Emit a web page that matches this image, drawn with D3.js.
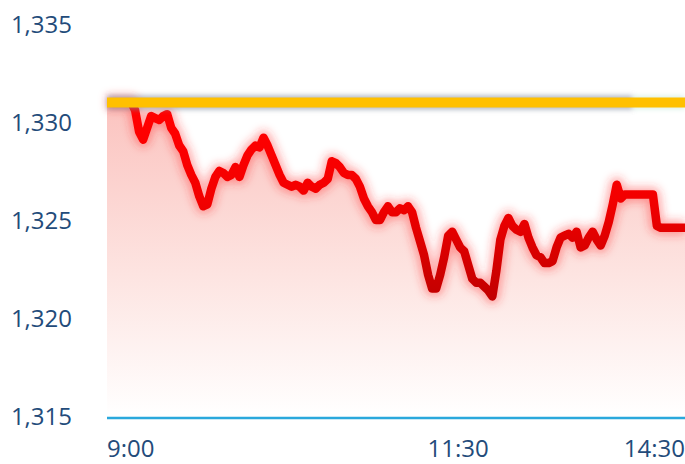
<!DOCTYPE html>
<html>
<head>
<meta charset="utf-8">
<script src="https://cdn.jsdelivr.net/npm/d3@7"></script>
<style>
  html, body { margin: 0; padding: 0; background: #fff; }
  svg { display: block; }
  .lbl { font-family: "Open Sans", "Noto Sans", sans-serif; font-size: 24px; fill: #234b7a; }
</style>
</head>
<body>
<div id="chart"></div>
<script>
// intraday price, one sample every step along the session
const prices = [
  1331.0, 1331.0, 1331.0, 1331.0, 1331.0, 1331.0, 1331.0, 1330.6, 1329.5, 1329.1,
  1329.7, 1330.3, 1330.2, 1330.1, 1330.3, 1330.4, 1329.7, 1329.4, 1328.8, 1328.5,
  1327.8, 1327.3, 1326.9, 1326.2, 1325.7, 1325.8, 1326.6, 1327.2, 1327.5, 1327.4,
  1327.2, 1327.3, 1327.7, 1327.2, 1327.8, 1328.3, 1328.6, 1328.8, 1328.7, 1329.2,
  1328.8, 1328.3, 1327.8, 1327.3, 1326.9, 1326.8, 1326.7, 1326.8, 1326.7, 1326.5,
  1326.9, 1326.7, 1326.6, 1326.8, 1326.9, 1327.1, 1328.0, 1327.9, 1327.7, 1327.4,
  1327.3, 1327.3, 1327.1, 1326.7, 1326.1, 1325.7, 1325.4, 1325.0, 1325.0, 1325.4,
  1325.7, 1325.4, 1325.4, 1325.6, 1325.5, 1325.7, 1325.4, 1324.6, 1323.9, 1323.2,
  1322.2, 1321.5, 1321.5, 1322.2, 1323.1, 1324.2, 1324.4, 1324.0, 1323.6, 1323.4,
  1322.7, 1322.0, 1321.8, 1321.8, 1321.6, 1321.4, 1321.1, 1322.4, 1324.0, 1324.7,
  1325.1, 1324.7, 1324.5, 1324.4, 1324.8, 1324.1, 1323.6, 1323.2, 1323.1, 1322.8,
  1322.8, 1322.9, 1323.6, 1324.1, 1324.2, 1324.3, 1324.1, 1324.4, 1323.6, 1323.7,
  1324.1, 1324.4, 1324.0, 1323.7, 1324.2, 1324.9, 1325.8, 1326.8, 1326.1, 1326.3,
  1326.3, 1326.3, 1326.3, 1326.3, 1326.3, 1326.3, 1326.3, 1324.7, 1324.6, 1324.6,
  1324.6, 1324.6, 1324.6, 1324.6, 1324.6
];
const prevClose = 1331;
const shadowEnd = 131; // index where the grey shadow of the ref line stops

const yTicks = [1315, 1320, 1325, 1330, 1335];
const xLabels = ["9:00", "11:30", "14:30"];
const xLabelIdx = [0, 87.5, 144];
const xLabelAnchor = ["start", "middle", "end"];

const width = 685, height = 464;
const plotLeft = 107, plotRight = 685, plotTop = 24, plotBottom = 416;

const svg = d3.select("#chart").append("svg")
  .attr("width", width)
  .attr("height", height);

const x = d3.scaleLinear().domain([0, prices.length - 1]).range([plotLeft, plotRight]);
const y = d3.scaleLinear().domain([1315, 1335]).range([plotBottom, plotTop]);

const defs = svg.append("defs");

let areaGrad = defs.append("linearGradient")
  .attr("id", "areaGrad")
  .attr("gradientUnits", "userSpaceOnUse")
  .attr("x1", 0).attr("x2", 0)
  .attr("y1", y(prevClose)).attr("y2", plotBottom);
areaGrad.append("stop").attr("offset", 0).attr("stop-color", "#fbc3bf");
areaGrad.append("stop").attr("offset", 0.55).attr("stop-color", "#fde4e1");
areaGrad.append("stop").attr("offset", 1).attr("stop-color", "#ffffff");

let lineGrad = defs.append("linearGradient")
  .attr("id", "lineGrad")
  .attr("gradientUnits", "userSpaceOnUse")
  .attr("x1", 0).attr("x2", 0)
  .attr("y1", y(1330)).attr("y2", y(1321));
lineGrad.append("stop").attr("offset", 0).attr("stop-color", "#ff0000");
lineGrad.append("stop").attr("offset", 0.45).attr("stop-color", "#f20000");
lineGrad.append("stop").attr("offset", 1).attr("stop-color", "#c20000");

defs.append("filter").attr("id", "glow")
  .attr("x", "-10%").attr("y", "-10%").attr("width", "120%").attr("height", "120%")
  .append("feGaussianBlur").attr("stdDeviation", 4);

defs.append("filter").attr("id", "soft")
  .attr("filterUnits", "userSpaceOnUse")
  .attr("x", 0).attr("y", 60).attr("width", width).attr("height", 90)
  .append("feGaussianBlur").attr("stdDeviation", 2.5);

// area under the price line
let area = d3.area()
  .x((d, i) => x(i))
  .y0(y(1315))
  .y1(d => y(d));

svg.append("path")
  .datum(prices)
  .attr("d", area)
  .attr("fill", "url(#areaGrad)");

// baseline
svg.append("line")
  .attr("x1", plotLeft).attr("x2", plotRight)
  .attr("y1", y(1315) + 2).attr("y2", y(1315) + 2)
  .attr("stroke", "#2aa8dc")
  .attr("stroke-width", 2.5);

let line = d3.line()
  .x((d, i) => x(i))
  .y(d => y(d));

// glow of the price line
svg.append("path")
  .datum(prices)
  .attr("d", line)
  .attr("fill", "none")
  .attr("stroke", "#ff3030")
  .attr("stroke-opacity", 0.4)
  .attr("stroke-width", 15)
  .attr("stroke-linejoin", "round")
  .attr("filter", "url(#glow)");

svg.append("path")
  .datum(prices)
  .attr("d", line)
  .attr("fill", "none")
  .attr("stroke", "url(#lineGrad)")
  .attr("stroke-width", 8.5)
  .attr("stroke-linejoin", "round")
  .attr("stroke-linecap", "butt");

// previous close reference line with its shadow
svg.append("line")
  .attr("x1", x(0)).attr("x2", x(shadowEnd))
  .attr("y1", y(prevClose)).attr("y2", y(prevClose))
  .attr("stroke", "#7f8a9e")
  .attr("stroke-opacity", 0.6)
  .attr("stroke-width", 14)
  .attr("filter", "url(#soft)");

svg.append("line")
  .attr("x1", x(shadowEnd)).attr("x2", plotRight)
  .attr("y1", y(prevClose)).attr("y2", y(prevClose))
  .attr("stroke", "#bfe8d2")
  .attr("stroke-opacity", 0.6)
  .attr("stroke-width", 13)
  .attr("filter", "url(#soft)");

svg.append("line")
  .attr("x1", plotLeft).attr("x2", plotRight)
  .attr("y1", y(prevClose)).attr("y2", y(prevClose))
  .attr("stroke", "#ffc000")
  .attr("stroke-width", 10);

// y labels
svg.selectAll("text.ylab")
  .data(yTicks)
  .enter()
  .append("text")
  .attr("class", "lbl ylab")
  .attr("x", 72)
  .attr("y", d => y(d))
  .attr("dy", ".36em")
  .attr("text-anchor", "end")
  .text(d => d3.format(",")(d));

// x labels
svg.selectAll("text.xlab")
  .data(xLabels)
  .enter()
  .append("text")
  .attr("class", "lbl xlab")
  .attr("x", (d, i) => x(xLabelIdx[i]))
  .attr("y", 457)
  .attr("text-anchor", (d, i) => xLabelAnchor[i])
  .text(d => d);
</script>
</body>
</html>
